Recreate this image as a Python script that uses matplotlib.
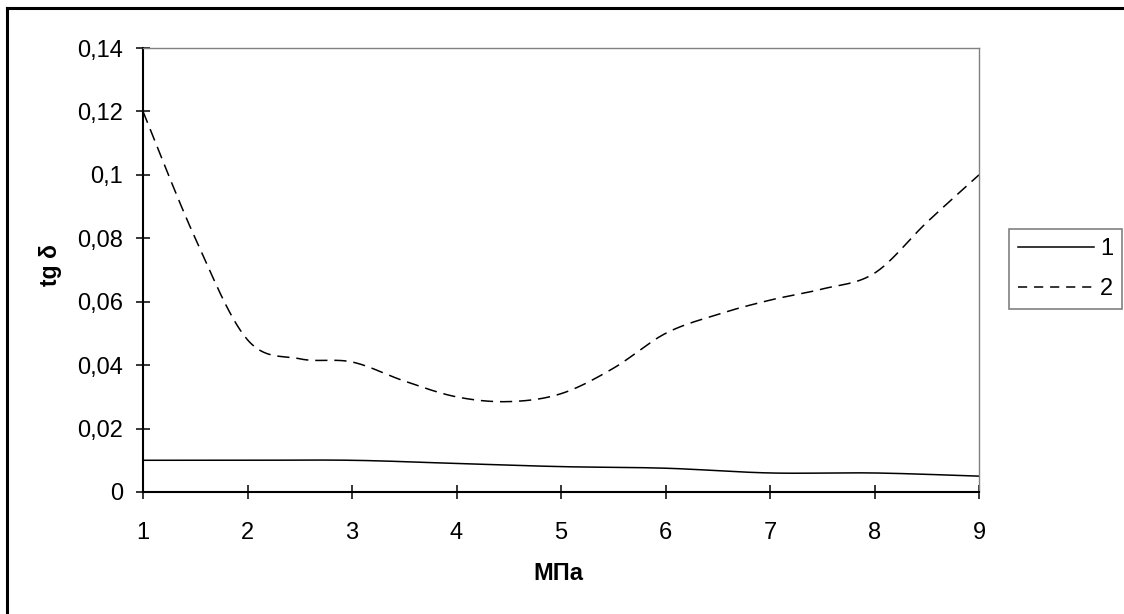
import numpy as np
import matplotlib.pyplot as plt
from matplotlib.lines import Line2D

# pressure, MPa
p1 = [1, 2, 3, 4, 5, 6, 7, 8, 9]
tg1 = [0.010, 0.010, 0.010, 0.009, 0.008, 0.0075, 0.006, 0.006, 0.005]

p2 = [1, 1.5, 2, 2.5, 3, 3.5, 4, 4.5, 5, 5.5, 6, 6.5, 7, 7.5, 8, 8.5, 9]
tg2 = [0.120, 0.080, 0.048, 0.042, 0.041, 0.035, 0.030, 0.0285, 0.031,
       0.039, 0.050, 0.056, 0.0605, 0.064, 0.069, 0.085, 0.100]

labels = ["1", "2"]
yticks = [0, 0.02, 0.04, 0.06, 0.08, 0.1, 0.12, 0.14]


def smooth(x, y, n=30):
    # Excel-like smoothed line: cubic Bezier through the points
    x = np.asarray(x, float)
    y = np.asarray(y, float)
    pts = np.column_stack([x, y])
    out = []
    for i in range(len(pts) - 1):
        p0 = pts[i]
        p3 = pts[i + 1]
        pm = pts[i - 1] if i > 0 else p0
        pn = pts[i + 2] if i + 2 < len(pts) else p3
        c1 = p0 + (p3 - pm) / 6
        c2 = p3 - (pn - p0) / 6
        t = np.linspace(0, 1, n)[:, None]
        seg = ((1 - t) ** 3 * p0 + 3 * (1 - t) ** 2 * t * c1
               + 3 * (1 - t) * t ** 2 * c2 + t ** 3 * p3)
        out.append(seg if i == 0 else seg[1:])
    seg = np.vstack(out)
    return seg[:, 0], seg[:, 1]


plt.rcParams["font.family"] = ["Liberation Sans", "DejaVu Sans"]

fig = plt.figure(figsize=(11.24, 6.14), dpi=100)
ax = fig.add_axes([143 / 1124, 1 - 492 / 614, (979 - 143) / 1124, (492 - 48) / 614])

x, y = smooth(p1, tg1)
ax.plot(x, y, color="black", lw=1.1, solid_capstyle="butt")
x, y = smooth(p2, tg2)
ax.plot(x, y, color="black", lw=1.1, linestyle=(0, (8, 4.5)))

ax.set_xlim(1, 9)
ax.set_ylim(0, 0.14)
ax.set_xticks(range(1, 10))
ax.set_yticks(yticks)
ax.set_yticklabels([f"{v:g}".replace(".", ",") for v in yticks])

for side in ["left", "bottom"]:
    ax.spines[side].set_color("black")
    ax.spines[side].set_linewidth(1.5)
for side in ["top", "right"]:
    ax.spines[side].set_color("#808080")
    ax.spines[side].set_linewidth(1.0)

ax.tick_params(axis="both", direction="inout", length=10.5, width=1.1,
               labelsize=17, color="black")
ax.tick_params(axis="y", pad=9)
ax.tick_params(axis="x", pad=16)

fig.text(558 / 1124, 1 - 574 / 614, "МПа", fontsize=17, fontweight="bold",
         ha="center", va="center")
fig.text(50 / 1124, 1 - 265 / 614, "tg δ", fontsize=16.5, fontweight="bold",
         ha="center", va="center", rotation=90)

handles = [Line2D([], [], color="black", lw=1.1),
           Line2D([], [], color="black", lw=1.1, linestyle=(0, (6, 4.5)))]
leg = fig.legend(handles, labels, loc="center left",
                 bbox_to_anchor=(1009 / 1124, 1 - 269 / 614),
                 fontsize=17, frameon=True, fancybox=False,
                 handlelength=3.2, handletextpad=0.25, borderpad=0.4,
                 labelspacing=0.75, borderaxespad=0)
leg.get_frame().set_edgecolor("#606060")
leg.get_frame().set_linewidth(1.2)

# outer chart frame
fig.add_artist(Line2D([7 / 1124, 7 / 1124], [0, 1 - 8 / 614], color="black",
                      lw=2.2, transform=fig.transFigure))
fig.add_artist(Line2D([7 / 1124, 1], [1 - 8 / 614, 1 - 8 / 614], color="black",
                      lw=2.2, transform=fig.transFigure))

fig.savefig("out.png", dpi=100)
